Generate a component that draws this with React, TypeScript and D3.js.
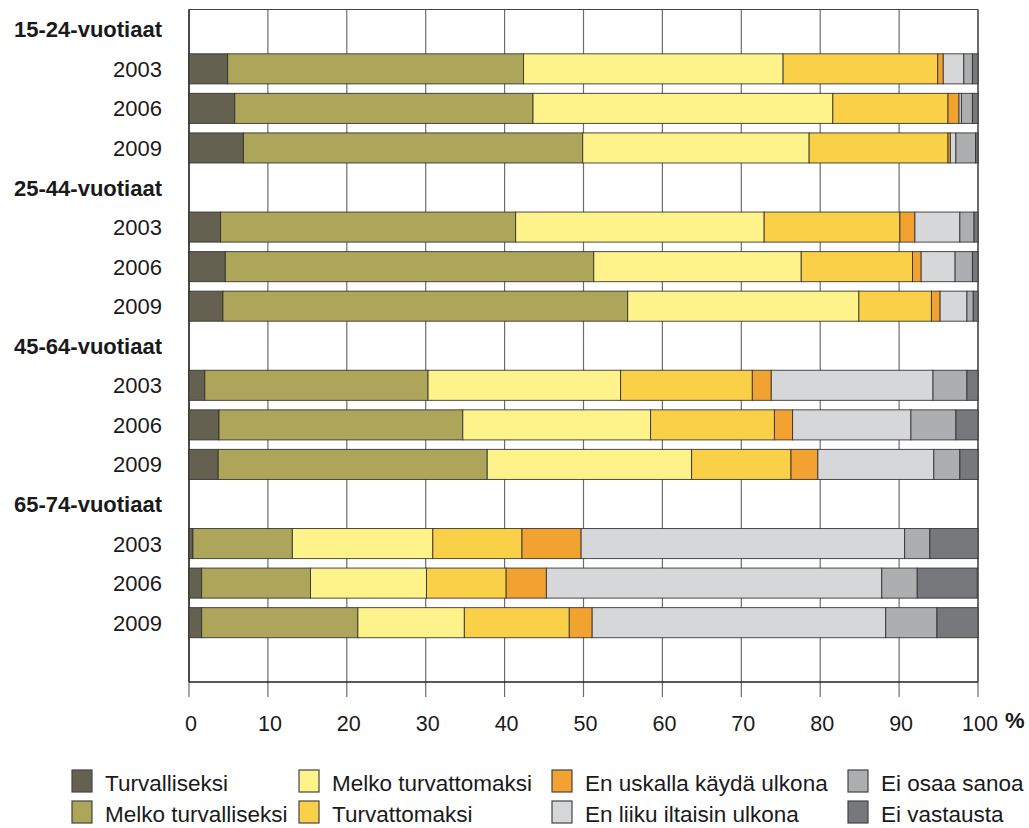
import React from "react";
import * as d3 from "d3";

const seriesNames = [
  "Turvalliseksi",
  "Melko turvalliseksi",
  "Melko turvattomaksi",
  "Turvattomaksi",
  "En uskalla käydä ulkona",
  "En liiku iltaisin ulkona",
  "Ei osaa sanoa",
  "Ei vastausta",
];
const seriesColors = ["#646150", "#ada55a", "#fef38a", "#f9d047", "#f2a231", "#d6d7d9", "#acaeb0", "#77787b"];

const groups = ["15-24-vuotiaat", "25-44-vuotiaat", "45-64-vuotiaat", "65-74-vuotiaat"];
const years = ["2003", "2006", "2009"];

// values per group, per year, per series (%)
const g1524 = [
  [4.9, 37.5, 32.9, 19.6, 0.7, 2.6, 1.1, 0.7],
  [5.8, 37.8, 38.0, 14.6, 1.4, 0.3, 1.4, 0.7],
  [6.9, 43.0, 28.7, 17.6, 0.3, 0.7, 2.5, 0.3],
];
const g2544 = [
  [4.0, 37.4, 31.5, 17.2, 1.9, 5.7, 1.8, 0.5],
  [4.6, 46.7, 26.3, 14.1, 1.1, 4.3, 2.2, 0.7],
  [4.3, 51.3, 29.3, 9.2, 1.1, 3.4, 0.8, 0.6],
];
const g4564 = [
  [2.0, 28.3, 24.4, 16.7, 2.4, 20.5, 4.3, 1.4],
  [3.8, 30.9, 23.8, 15.7, 2.3, 15.0, 5.7, 2.8],
  [3.7, 34.1, 25.9, 12.6, 3.4, 14.7, 3.3, 2.3],
];
const g6574 = [
  [0.5, 12.6, 17.8, 11.3, 7.5, 41.0, 3.2, 6.1],
  [1.6, 13.8, 14.7, 10.1, 5.1, 42.5, 4.5, 7.6],
  [1.6, 19.8, 13.5, 13.3, 2.9, 37.2, 6.5, 5.2],
];
const groupValues = [g1524, g2544, g4564, g6574];
const xTicks = [0, 10, 20, 30, 40, 50, 60, 70, 80, 90, 100];

const FONT = "'Liberation Sans', Arial, sans-serif";

export default function App() {
  const W = 1029, H = 828;
  const left = 189, right = 978, top = 9.5, bottom = 682;
  const x = d3.scaleLinear().domain([0, 100]).range([left, right]);

  type Row = { key: string; label: string; header: boolean; values?: number[] };
  const rows: Row[] = [];
  groups.forEach((g, gi) => {
    rows.push({ key: g, label: g, header: true });
    years.forEach((yr, yi) => rows.push({ key: g + yr, label: yr, header: false, values: groupValues[gi][yi] }));
  });
  rows.push({ key: "empty", label: "", header: true });

  const y = d3.scaleBand<string>().domain(rows.map(r => r.key)).range([top, bottom]).paddingInner(0.24).paddingOuter(0.12);

  const stack = (vals: number[]) => {
    let acc = 0;
    return vals.map(v => { const s = acc; acc += v; return [s, acc]; });
  };

  const legendCols = [72, 299, 552, 848];
  const legendRows = [770, 801];

  return (
    <svg width={W} height={H} style={{ display: "block", position: "absolute", left: 0, top: 0, background: "#fff" }} fontFamily={FONT}>
      {xTicks.map(t => (
        <line key={"g" + t} x1={x(t)} x2={x(t)} y1={top} y2={bottom + 15} stroke="#6d6d6d" strokeWidth={1.2} />
      ))}
      <line x1={left} x2={right} y1={top} y2={top} stroke="#444" strokeWidth={1.2} />
      <line x1={left} x2={left} y1={top} y2={bottom} stroke="#222" strokeWidth={1.4} />
      <line x1={left} x2={right} y1={bottom} y2={bottom} stroke="#222" strokeWidth={1.4} />
      <line x1={right} x2={right} y1={top} y2={bottom} stroke="#444" strokeWidth={1.2} />

      {rows.filter(r => !r.header).map(r => {
        const segs = stack(r.values!);
        const yy = y(r.key)!;
        return (
          <g key={r.key}>
            {segs.map((s, i) => (
              <rect key={i} x={x(s[0])} y={yy} width={Math.max(0, x(s[1]) - x(s[0]))} height={y.bandwidth()}
                fill={seriesColors[i]} stroke="#2e2e2e" strokeWidth={1} strokeOpacity={0.85} />
            ))}
          </g>
        );
      })}

      {rows.filter(r => r.key !== "empty").map(r => {
        const cy = y(r.key)! + y.bandwidth() / 2;
        return (
          <text key={"l" + r.key} x={162} y={cy + 8} textAnchor="end" fontSize={22}
            fontWeight={r.header ? "bold" : "normal"} fill="#1a1a1a">{r.label}</text>
        );
      })}

      {xTicks.map(t => (
        <text key={"t" + t} x={x(t) + 2} y={731} textAnchor="middle" fontSize={21.5} fill="#1a1a1a">{t}</text>
      ))}
      <text x={1005} y={728} fontSize={22} fontWeight="bold" fill="#1a1a1a">%</text>

      {seriesNames.map((n, i) => {
        const col = Math.floor(i / 2), row = i % 2;
        const lx = legendCols[col], ly = legendRows[row];
        return (
          <g key={"lg" + i}>
            <rect x={lx} y={ly} width={20} height={22} fill={seriesColors[i]} stroke="#444" strokeWidth={1.2} />
            <text x={lx + 33} y={ly + 21} fontSize={22.5} fill="#1a1a1a">{n}</text>
          </g>
        );
      })}
    </svg>
  );
}
